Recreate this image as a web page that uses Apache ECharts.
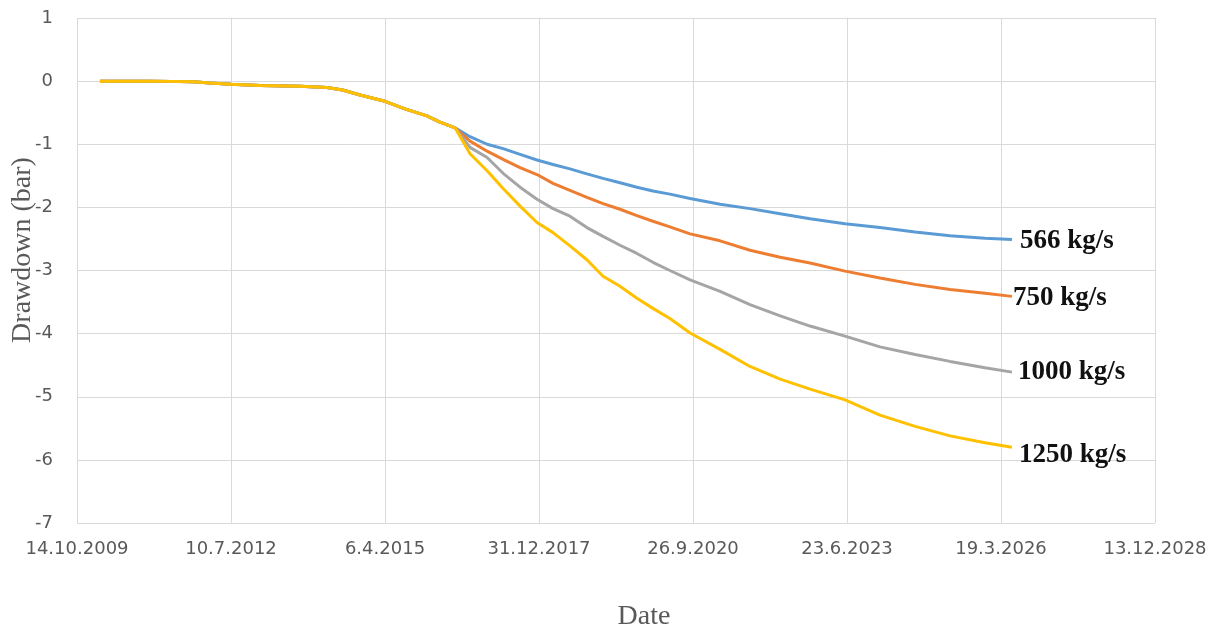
<!DOCTYPE html>
<html>
<head>
<meta charset="utf-8">
<script src="https://cdn.jsdelivr.net/npm/echarts@6/dist/echarts.min.js"></script>
<style>
  html, body { margin: 0; padding: 0; background: #fff; }
  #chart { width: 1217px; height: 633px; }
</style>
</head>
<body>
<div id="chart"></div>
<script>
// ---- Data ----
// Common early part (all four rates follow the same curve)
const sharedDates = ["2010-03-12","2011-02-01","2011-11-06","2012-02-24","2012-07-10","2013-01-15","2013-10-01","2014-03-25","2014-07-05","2014-10-26","2015-04-06","2015-08-13","2016-01-03","2016-03-28","2016-07-04"];
const sharedValues = [0.00, 0.00, -0.01, -0.03, -0.05, -0.07, -0.08, -0.10, -0.14, -0.22, -0.32, -0.44, -0.55, -0.65, -0.74];

// Dates after the curves split
const tailDates = ["2016-10-09","2017-01-28","2017-05-12","2017-08-30","2017-12-18","2018-04-01","2018-07-20","2018-11-07","2019-02-20","2019-06-10","2019-09-28","2020-01-10","2020-04-29","2020-09-07","2021-03-21","2021-10-01","2022-04-15","2022-10-26","2023-06-10","2024-01-23","2024-09-07","2025-04-22","2025-12-05","2026-05-29"];

const rate566  = [-0.88,-1.00,-1.07,-1.16,-1.25,-1.32,-1.39,-1.47,-1.54,-1.61,-1.68,-1.74,-1.79,-1.86,-1.95,-2.02,-2.10,-2.18,-2.26,-2.32,-2.39,-2.45,-2.49,-2.51];
const rate750  = [-0.95,-1.11,-1.24,-1.37,-1.48,-1.62,-1.73,-1.84,-1.94,-2.03,-2.13,-2.22,-2.31,-2.42,-2.53,-2.68,-2.79,-2.88,-3.01,-3.12,-3.22,-3.30,-3.36,-3.41];
const rate1000 = [-1.05,-1.21,-1.46,-1.68,-1.87,-2.02,-2.14,-2.32,-2.46,-2.60,-2.73,-2.87,-3.00,-3.15,-3.33,-3.54,-3.72,-3.88,-4.04,-4.21,-4.33,-4.44,-4.54,-4.61];
const rate1250 = [-1.15,-1.42,-1.70,-1.98,-2.24,-2.40,-2.61,-2.83,-3.09,-3.25,-3.44,-3.60,-3.76,-3.99,-4.25,-4.52,-4.72,-4.88,-5.05,-5.29,-5.47,-5.62,-5.73,-5.80];

const seriesNames = ["566 kg/s", "750 kg/s", "1000 kg/s", "1250 kg/s"];
const seriesColors = ["#5B9BD5", "#ED7D31", "#A5A5A5", "#FFC000"];
const labelOffsets = [[8, 1], [1, 2], [6, 0], [7, 8]];

// x-axis: day serials (days since 1899-12-30), ticks every 1000 days
const xMin = 40100;   // 14.10.2009
const xMax = 47100;   // 13.12.2028
const xStep = 1000;
const yMin = -7, yMax = 1, yStep = 1;

// ---- helpers ----
const EPOCH = Date.UTC(1899, 11, 30);
function toSerial(s) {
  const [y, m, d] = s.split("-").map(Number);
  return Math.round((Date.UTC(y, m - 1, d) - EPOCH) / 86400000);
}
function serialLabel(v) {
  const dt = new Date(EPOCH + v * 86400000);
  return dt.getUTCDate() + "." + (dt.getUTCMonth() + 1) + "." + dt.getUTCFullYear();
}
function buildSeries(tail) {
  const pts = [];
  sharedDates.forEach((d, i) => pts.push([toSerial(d), sharedValues[i]]));
  tailDates.forEach((d, i) => pts.push([toSerial(d), tail[i]]));
  return pts;
}
const tails = [rate566, rate750, rate1000, rate1250];

const chart = echarts.init(document.getElementById("chart"), null, { renderer: "canvas" });
const tickFont = { fontFamily: "DejaVu Sans", fontSize: 18, color: "#595959" };

chart.setOption({
  animation: false,
  backgroundColor: "#ffffff",
  grid: { left: 77, right: 62, top: 18, bottom: 110, containLabel: false },
  xAxis: {
    type: "value",
    min: xMin, max: xMax, interval: xStep,
    axisLine: { show: false },
    axisTick: { show: false },
    splitLine: { show: true, lineStyle: { color: "#D9D9D9", width: 1 } },
    axisLabel: Object.assign({ margin: 17, showMinLabel: true, showMaxLabel: true, hideOverlap: false, formatter: serialLabel }, tickFont)
  },
  yAxis: {
    type: "value",
    min: yMin, max: yMax, interval: yStep,
    axisLine: { show: false },
    axisTick: { show: false },
    splitLine: { show: true, lineStyle: { color: "#D9D9D9", width: 1 } },
    axisLabel: Object.assign({ margin: 24 }, tickFont)
  },
  graphic: [
    {
      type: "text", x: 23, y: 250, rotation: Math.PI / 2,
      style: { text: "Drawdown (bar)", fontFamily: "Liberation Serif", fontSize: 28, fill: "#595959", textAlign: "center", textVerticalAlign: "middle" }
    },
    {
      type: "text", x: 644, y: 617,
      style: { text: "Date", fontFamily: "Liberation Serif", fontSize: 28, fill: "#595959", textAlign: "center", textVerticalAlign: "middle" }
    }
  ],
  series: tails.map((t, i) => ({
    name: seriesNames[i],
    type: "line",
    data: buildSeries(t),
    showSymbol: false,
    symbol: "none",
    lineStyle: { color: seriesColors[i], width: 3 },
    itemStyle: { color: seriesColors[i] },
    endLabel: {
      show: true,
      formatter: "{a}",
      distance: 0,
      offset: labelOffsets[i],
      fontFamily: "Liberation Serif",
      fontWeight: "bold",
      fontSize: 27,
      color: "#111111"
    },
    z: 2 + i
  }))
});
</script>
</body>
</html>
